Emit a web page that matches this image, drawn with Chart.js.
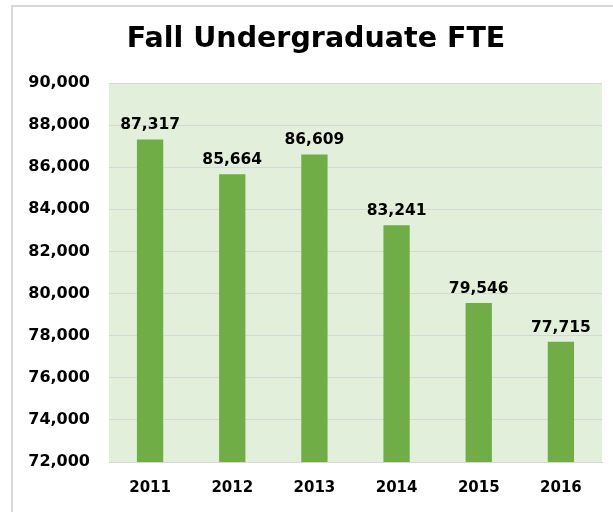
<!DOCTYPE html>
<html>
<head>
<meta charset="utf-8">
<script src="https://cdn.jsdelivr.net/npm/chart.js@4.4.1/dist/chart.umd.min.js"></script>
<style>
html,body{margin:0;padding:0;background:#fff;}
#wrap{position:relative;width:613px;height:512px;}
</style>
</head>
<body>
<div id="wrap"><canvas id="c" width="613" height="512"></canvas></div>
<script>
const categories = ['2011','2012','2013','2014','2015','2016'];
const fteValues = [87317, 85664, 86609, 83241, 79546, 77715];
const yMin = 72000, yMax = 90000, yStep = 2000;
const chartTitle = 'Fall Undergraduate FTE';

const FONT = "'DejaVu Sans', sans-serif";

const bgPlugin = {
  id: 'bgPlugin',
  beforeDraw(chart) {
    const {ctx, chartArea: a} = chart;
    ctx.save();
    ctx.fillStyle = '#e2efda';
    ctx.fillRect(a.left, a.top, a.right - a.left, a.bottom - a.top);
    ctx.strokeStyle = '#d9d9d9';
    ctx.lineWidth = 2;
    ctx.beginPath();
    ctx.moveTo(12, 520);
    ctx.lineTo(12, 6);
    ctx.lineTo(620, 6);
    ctx.stroke();
    // chart title
    ctx.fillStyle = '#000';
    ctx.font = "bold 28.5px " + FONT;
    ctx.textAlign = 'center';
    ctx.textBaseline = 'alphabetic';
    ctx.fillText(chartTitle, 316, 47);
    ctx.restore();
  }
};

const labelPlugin = {
  id: 'labelPlugin',
  afterDatasetsDraw(chart) {
    const {ctx} = chart;
    const meta = chart.getDatasetMeta(0);
    ctx.save();
    ctx.fillStyle = '#000';
    ctx.font = "bold 15.5px " + FONT;
    ctx.textAlign = 'center';
    ctx.textBaseline = 'alphabetic';
    meta.data.forEach((bar, i) => {
      const v = chart.data.datasets[0].data[i];
      ctx.fillText(v.toLocaleString('en-US'), bar.x, bar.y - 10);
    });
    ctx.restore();
  }
};

new Chart(document.getElementById('c'), {
  type: 'bar',
  data: {
    labels: categories,
    datasets: [{
      data: fteValues,
      backgroundColor: '#70ad47',
      borderWidth: 0,
      barPercentage: 0.32,
      categoryPercentage: 1.0
    }]
  },
  options: {
    responsive: false,
    animation: false,
    devicePixelRatio: 1,
    layout: { padding: { left: 0, right: 11, top: 83, bottom: 0 } },
    plugins: {
      legend: { display: false },
      tooltip: { enabled: false },
      title: { display: false }
    },
    scales: {
      x: {
        grid: { display: false, drawTicks: false },
        border: { display: true, color: '#d9d9d9', width: 1 },
        ticks: {
          color: '#000',
          padding: 17,
          font: { family: FONT, size: 15, weight: 'bold', lineHeight: 1.2 }
        },
        afterFit(scale) { scale.height = 50; }
      },
      y: {
        min: yMin,
        max: yMax,
        grid: { color: '#d6d6d6', lineWidth: 1, drawTicks: false },
        border: { display: false },
        ticks: {
          stepSize: yStep,
          color: '#000',
          padding: 19,
          font: { family: FONT, size: 16, weight: 'bold' },
          callback: v => v.toLocaleString('en-US')
        },
        afterFit(scale) { scale.width = 109; }
      }
    }
  },
  plugins: [bgPlugin, labelPlugin]
});
</script>
</body>
</html>
